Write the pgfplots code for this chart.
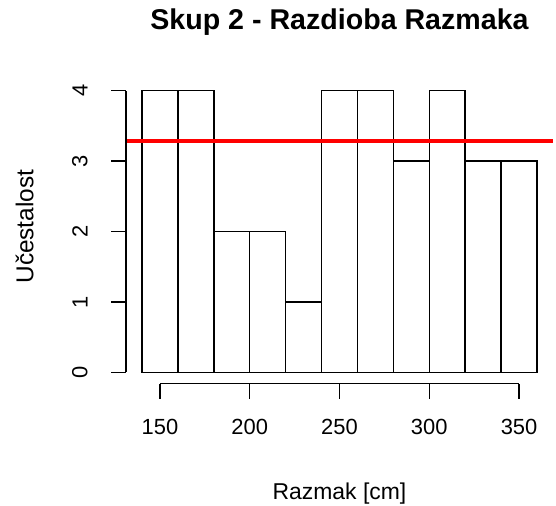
\documentclass[border=0pt]{standalone}
\usepackage{pgfplots}
\pgfplotsset{compat=1.18}
\usepackage{fontspec}
\setmainfont{Liberation Sans}
\begin{document}
\begin{tikzpicture}
\begin{axis}[
  scale only axis,
  width=426.6bp, height=304.2bp,
  xmin=131.2, xmax=368.8, ymin=-0.16, ymax=4.16,
  axis line style={draw=none},
  clip=false,
  xtick={150,200,250,300,350},
  ytick={0,1,2,3,4},
  xtick pos=bottom, ytick pos=left,
  tick align=outside,
  major tick length=15bp,
  every tick/.style={black, line width=1.5bp},
  /pgf/number format/assume math mode=true,
  tick label style={font=\fontsize{22}{26}\selectfont},
  xticklabel style={anchor=base, yshift=-36bp},
  yticklabel style={xshift=-20bp, rotate=90, anchor=south},
]
\coordinate (SW) at (rel axis cs:0,0);
\addplot[ybar interval, draw=black, fill=white, line width=1.5bp] coordinates {
(140,4)(160,4)(180,2)(200,2)(220,1)(240,4)(260,4)(280,3)(300,4)(320,3)(340,3)(360,3)};
\addplot[red, line width=4bp, line cap=butt] coordinates {(131.2,3.28)(368.8,3.28)};
\draw[black, line width=1.5bp] (axis cs:150,-0.16) -- (axis cs:350,-0.16);
\draw[black, line width=1.5bp] (axis cs:131.2,0) -- (axis cs:131.2,4);
\node[anchor=base, font=\bfseries\fontsize{28.7}{32}\selectfont] at ([yshift=49.4bp]rel axis cs:0.5,1) {Skup 2 - Razdioba Razmaka};
\node[anchor=base, font=\fontsize{23}{27}\selectfont] at ([yshift=-115.4bp]rel axis cs:0.5,0) {Razmak [cm]};
\node[anchor=base, rotate=90, font=\fontsize{24.5}{28}\selectfont] at ([xshift=-92.9bp]rel axis cs:0,0.516) {Učestalost};
\end{axis}
\pgfresetboundingbox
\path (SW) ++(-126.2bp,-122.4bp) rectangle ++(556bp,506bp);
\end{tikzpicture}
\end{document}
